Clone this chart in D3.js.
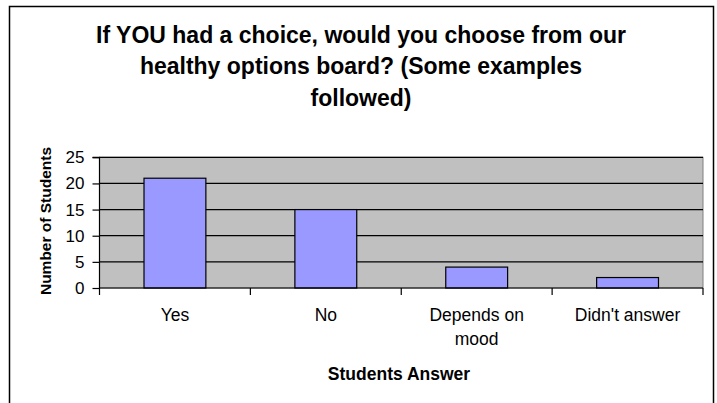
<!DOCTYPE html>
<html><head><meta charset="utf-8">
<script src="https://cdn.jsdelivr.net/npm/d3@7"></script>
<style>body{margin:0;background:#fff}svg{display:block}</style>
</head><body>
<svg id="c" width="717" height="403"></svg>
<script>
const categories = [["Yes"], ["No"], ["Depends on", "mood"], ["Didn't answer"]];
const values = [21, 15, 4, 2];
const yTicks = [0, 5, 10, 15, 20, 25];
const titleLines = ["If YOU had a choice, would you choose from our", "healthy options board? (Some examples", "followed)"];
const yTitle = "Number of Students";
const xTitle = "Students Answer";

const svg = d3.select("#c");
const font = "Arial, 'Liberation Sans', sans-serif";
svg.append("rect").attr("x", 9.5).attr("y", 6.5).attr("width", 704).attr("height", 410)
  .attr("fill", "#fff").attr("stroke", "#000").attr("stroke-width", 1.5);

const L = 99.5, R = 703, T = 157.3, B = 288;
const x = d3.scaleBand().domain(d3.range(categories.length)).range([L, R]).paddingInner(0).paddingOuter(0);
const y = d3.scaleLinear().domain([0, 25]).range([B, T]);

svg.append("rect").attr("x", L).attr("y", T).attr("width", R - L).attr("height", B - T)
  .attr("fill", "#C0C0C0").attr("stroke", "#808080").attr("stroke-width", 1);

svg.append("g").selectAll("line").data(yTicks.filter(d => d > 0)).join("line")
  .attr("x1", L).attr("x2", R).attr("y1", d => y(d)).attr("y2", d => y(d))
  .attr("stroke", "#000").attr("stroke-width", 1.2);

const bw = x.bandwidth() * 0.41;
svg.append("g").selectAll("rect").data(values).join("rect")
  .attr("x", (d, i) => x(i) + x.bandwidth() / 2 - bw / 2)
  .attr("y", d => y(d)).attr("width", bw).attr("height", d => B - y(d))
  .attr("fill", "#9999FF").attr("stroke", "#000").attr("stroke-width", 1.2);

const ya = d3.axisLeft(y).tickValues(yTicks).tickSize(7).tickPadding(8);
const gy = svg.append("g").attr("transform", `translate(${L},0)`).call(ya);
gy.select(".domain").attr("stroke", "#000").attr("stroke-width", 1.2).attr("d", `M-7,${T}H0V${B}`);
gy.selectAll("line").attr("stroke-width", 1.2);
gy.selectAll("text").attr("font-family", font).attr("font-size", 17).attr("fill", "#000");

const xa = d3.axisBottom(x).tickValues([]).tickSize(0);
const gx = svg.append("g").attr("transform", `translate(0,${B})`).call(xa);
gx.select(".domain").attr("stroke", "#000").attr("stroke-width", 1.2).attr("d", `M${L},0H${R}`);
const edges = d3.range(categories.length + 1).map(i => L + i * x.step());
gx.selectAll(".tk").data(edges).join("line").attr("class", "tk")
  .attr("x1", d => d).attr("x2", d => d).attr("y1", 0).attr("y2", 7).attr("stroke", "#000").attr("stroke-width", 1.2);

const lab = svg.append("g").attr("font-family", font).attr("font-size", 17.5).attr("text-anchor", "middle");
categories.forEach((c, i) => {
  c.forEach((t, j) => {
    lab.append("text").attr("x", x(i) + x.bandwidth() / 2).attr("y", 321 + j * 23.5).text(t);
  });
});

svg.append("text").attr("x", 399).attr("y", 380).attr("text-anchor", "middle")
  .attr("font-family", font).attr("font-size", 17.5).attr("font-weight", "bold").text(xTitle);

svg.append("text").attr("transform", `translate(51,221) rotate(-90)`).attr("text-anchor", "middle")
  .attr("font-family", font).attr("font-size", 15.5).attr("font-weight", "bold").text(yTitle);

const tg = svg.append("g").attr("font-family", font).attr("font-size", 23).attr("font-weight", "bold").attr("text-anchor", "middle");
titleLines.forEach((t, i) => {
  tg.append("text").attr("x", 361).attr("y", 42.5 + i * 31.5).text(t);
});
</script>
</body></html>
